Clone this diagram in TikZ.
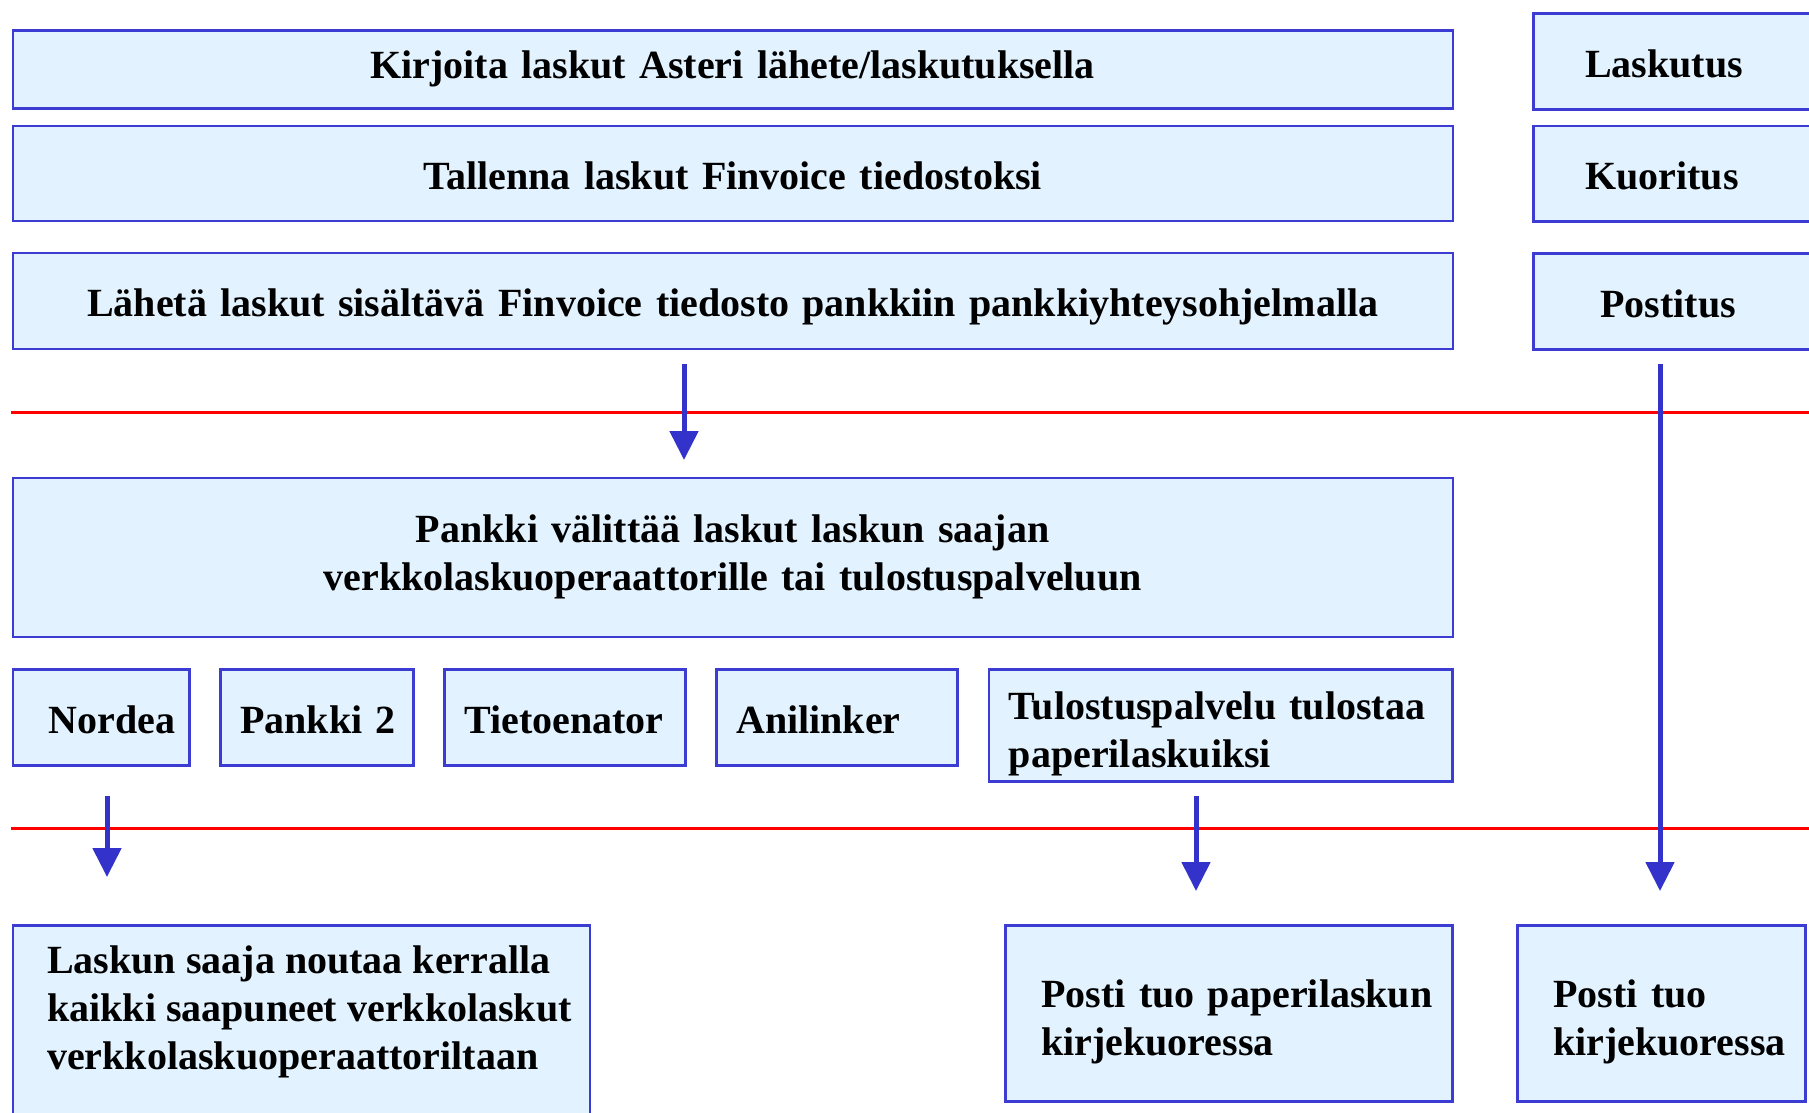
\documentclass[tikz,border=0pt]{standalone}
\usepackage{fontspec}
\setmainfont{Liberation Serif}
\usetikzlibrary{arrows.meta}
\definecolor{boxfill}{RGB}{226,243,255}
\definecolor{boxline}{RGB}{60,60,210}
\definecolor{flowblue}{RGB}{51,51,204}
\hyphenpenalty=10000\relax
\tikzset{
  stagebox/.style={draw=boxline, fill=boxfill, line width=2.5pt, anchor=north west,
    inner ysep=0pt, font=\bfseries\fontsize{40}{48}\selectfont},
  oneline/.style={text height=35pt, text depth=3pt},
  boxtext/.style={anchor=north west, inner sep=0pt, align=left,
    font=\bfseries\fontsize{40}{48}\selectfont},
  flow/.style={draw=flowblue, line width=5pt, -{Triangle[width=28pt,length=29pt]}},
  border/.style={draw=red, line width=3pt}
}
\newcommand{\toprow}{\rule{0pt}{45pt}}

\begin{document}
\begin{tikzpicture}[x=1pt,y=-1pt]
\useasboundingbox (0,0) rectangle (1809,1112);
% raja-viivat
\draw[border] (11,412) -- (1815,412);
\draw[border] (11,828) -- (1815,828);
% laskuttaja
\node[stagebox, text height=28pt, text depth=10pt, minimum height=78pt, text width=1400pt, inner xsep=20pt, align=center] (kirjoita) at (11.5,29) {Kirjoita laskut Asteri lähete/laskutuksella};
\node[stagebox, oneline, minimum height=95pt, text width=1400pt, inner xsep=20pt, align=center] (tallenna) at (11.5,124.5) {Tallenna laskut Finvoice tiedostoksi};
\node[stagebox, oneline, minimum height=96pt, text width=1400pt, inner xsep=20pt, align=center] (laheta) at (11.5,251.5) {Lähetä laskut sisältävä Finvoice tiedosto pankkiin pankkiyhteysohjelmalla};
\node[stagebox, oneline, minimum height=96pt, text width=200pt, inner xsep=52pt, align=left] (laskutus) at (1532,12) {Laskutus};
\node[stagebox, oneline, minimum height=95.5pt, text width=200pt, inner xsep=52pt, align=left] (kuoritus) at (1532,124.5) {Kuoritus};
\node[stagebox, oneline, minimum height=96pt, text width=200pt, inner xsep=67pt, align=left] (postitus) at (1532,252) {Postitus};
% pankki ja operaattorit
\node[stagebox, minimum height=159pt, text width=1400pt, inner xsep=20pt, align=center] (valittaa) at (11.5,476.5) {Pankki välittää laskut laskun saajan\\verkkolaskuoperaattorille tai tulostuspalveluun};
\node[stagebox, oneline, minimum height=96pt, text width=104.5pt, inner xsep=36pt, align=left] (nordea) at (11.5,668) {Nordea};
\node[stagebox, oneline, minimum height=96pt, text width=153pt, inner xsep=20pt, align=left] (pankki2) at (219,668) {Pankki~2};
\node[stagebox, oneline, minimum height=96pt, text width=201pt, inner xsep=20pt, align=left] (tieto) at (443,668) {Tietoenator};
\node[stagebox, oneline, minimum height=96pt, text width=201pt, inner xsep=20pt, align=left] (anilinker) at (715,668) {Anilinker};
\node[stagebox, minimum height=112pt, text width=423.5pt, inner xsep=20pt, align=left] (tulostus) at (987.5,668) {\toprow Tulostuspalvelu tulostaa\\paperilaskuiksi};
% vastaanottaja
\node[stagebox, minimum height=200pt, minimum width=577pt] (noutaa) at (11.5,924) {};
\node[boxtext] (noutaateksti) at (47,946) {Laskun saaja noutaa kerralla\\kaikki saapuneet verkkolaskut\\verkkolaskuoperaattoriltaan};
\node[stagebox, minimum height=176pt, text width=375pt, inner xsep=36pt, align=left] (paperi) at (1004,924) {\toprow Posti~tuo~paperilaskun\\kirjekuoressa};
\node[stagebox, minimum height=176pt, text width=216pt, inner xsep=36pt, align=left] (kirje) at (1516,924) {\toprow Posti tuo\\kirjekuoressa};
% nuolet
\coordinate (a1) at (684,364);  \coordinate (b1) at (684,460);
\coordinate (a2) at (107,796);  \coordinate (b2) at (107,877);
\coordinate (a3) at (1196,796); \coordinate (b3) at (1196,891);
\coordinate (a4) at (1660,364); \coordinate (b4) at (1660,891);
\draw[flow] (a1) -- (b1);
\draw[flow] (a2) -- (b2);
\draw[flow] (a3) -- (b3);
\draw[flow] (a4) -- (b4);
\end{tikzpicture}
\end{document}
